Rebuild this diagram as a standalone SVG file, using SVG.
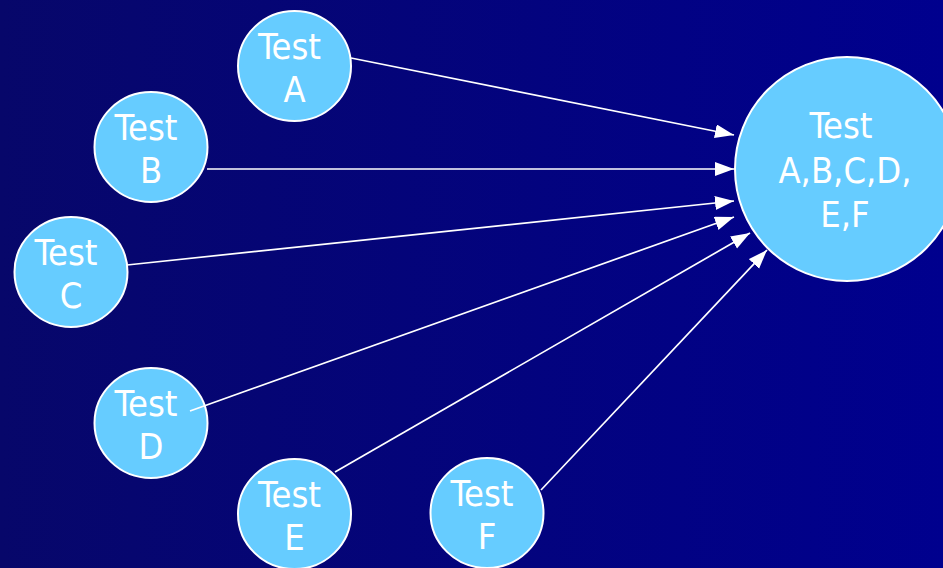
<svg xmlns="http://www.w3.org/2000/svg" width="943" height="568" viewBox="0 0 943 568">
  <defs>
    <linearGradient id="bg" x1="0" y1="0" x2="1" y2="0">
      <stop offset="0" stop-color="#07076a"/>
      <stop offset="1" stop-color="#00008e"/>
    </linearGradient>
    <marker id="head" markerUnits="userSpaceOnUse" markerWidth="21" markerHeight="15" refX="19" refY="7" orient="auto">
      <path d="M0,0 L19,7 L0,14 z" fill="#ffffff"/>
    </marker>
  </defs>
  <style>
    .node { fill: #66ccff; stroke: #ffffff; stroke-width: 2; }
    .label { font-family: "DejaVu Sans Condensed", "DejaVu Sans", sans-serif; font-stretch: condensed; font-size: 36px; fill: #ffffff; text-anchor: middle; }
    .link { stroke: #ffffff; stroke-width: 1.7; fill: none; marker-end: url(#head); }
  </style>

  <rect x="0" y="0" width="943" height="568" fill="url(#bg)"/>

  <g id="test-a">
    <ellipse class="node" cx="294.5" cy="66" rx="56.5" ry="55"/>
    <text class="label" x="289.5" y="59">Test</text>
    <text class="label" x="294.5" y="102">A</text>
  </g>
  <g id="test-b">
    <ellipse class="node" cx="151" cy="147" rx="56.5" ry="55"/>
    <text class="label" x="146" y="140">Test</text>
    <text class="label" x="151" y="183">B</text>
  </g>
  <g id="test-c">
    <ellipse class="node" cx="71" cy="272" rx="56.5" ry="55"/>
    <text class="label" x="66" y="265">Test</text>
    <text class="label" x="71" y="308">C</text>
  </g>
  <g id="test-d">
    <ellipse class="node" cx="151" cy="423" rx="56.5" ry="55"/>
    <text class="label" x="146" y="416">Test</text>
    <text class="label" x="151" y="459">D</text>
  </g>
  <g id="test-e">
    <ellipse class="node" cx="294.5" cy="514" rx="56.5" ry="55"/>
    <text class="label" x="289.5" y="507">Test</text>
    <text class="label" x="294.5" y="550">E</text>
  </g>
  <g id="test-f">
    <ellipse class="node" cx="487" cy="513" rx="56.5" ry="55"/>
    <text class="label" x="482" y="506">Test</text>
    <text class="label" x="487" y="549">F</text>
  </g>
  <g id="test-all">
    <ellipse class="node" cx="847" cy="169" rx="112" ry="112"/>
    <text class="label" x="841" y="138">Test</text>
    <text class="label" x="845" y="183">A,B,C,D,</text>
    <text class="label" x="845" y="227">E,F</text>
  </g>

  <g id="connectors">
    <line class="link" x1="351" y1="58" x2="734" y2="135"/>
    <line class="link" x1="207" y1="169" x2="734" y2="169"/>
    <line class="link" x1="127" y1="265" x2="734" y2="201"/>
    <line class="link" x1="190" y1="411" x2="734" y2="217"/>
    <line class="link" x1="335" y1="472" x2="750" y2="233"/>
    <line class="link" x1="541" y1="490" x2="767" y2="250"/>
  </g>
</svg>
